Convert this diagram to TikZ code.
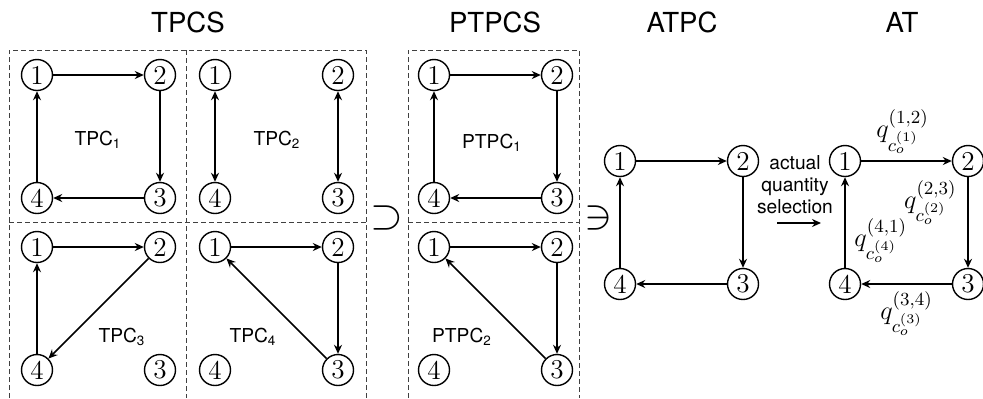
\documentclass[tikz,border=0pt]{standalone}
\usepackage{fix-cm}
\usepackage{fontspec}
\setsansfont{TeX Gyre Heros}
\usetikzlibrary{arrows.meta,positioning}

\begin{document}
\begin{tikzpicture}[x=0.5pt,y=-0.5pt,
  vtx/.style={circle,draw,line width=0.7pt,minimum size=15.5pt,inner sep=0pt,font=\fontsize{13.6}{13.6}\selectfont},
  edge/.style={line width=0.8pt,-{Stealth[length=4.5pt,width=4pt]}},
  twoway/.style={line width=0.8pt,{Stealth[length=4.5pt,width=4pt]}-{Stealth[length=4.5pt,width=4pt]}},
  cellbox/.style={line width=0.5pt,dash pattern=on 2.5pt off 1.5pt,black!75},
  title/.style={font=\sffamily\fontsize{13.8}{16}\selectfont},
  tag/.style={font=\sffamily\fontsize{9.6}{11}\selectfont},
  setsym/.style={scale=1.5,font=\fontsize{14}{14}\selectfont},
  qlab/.style={font=\fontsize{13.2}{15}\selectfont}]
  \useasboundingbox (0,0) rectangle (983,398); % Bildgrenzen

  % gestrichelte Rahmen
  \draw[cellbox] (9,398) |- (366,50) -- (366,398);
  \draw[cellbox] (186,50) -- (186,398);
  \draw[cellbox] (9,222) -- (366,222);
  \draw[cellbox] (408,398) |- (579,50) -- (579,398);
  \draw[cellbox] (408,222) -- (579,222);

  % Ueberschriften
  \node[title] (hTPCS) at (188,22) {TPCS};
  \node[title] (hPTPCS) at (495,22) {PTPCS};
  \node[title] (hATPC) at (682,22) {ATPC};
  \node[title] (hAT) at (902,22) {AT};

  % je vier Knoten pro Feld
  \foreach \g/\x/\y in {tpcA/37/75,tpcB/215/75,tpcC/37/247,tpcD/215/247,
                        ptpcA/434/75,ptpcB/434/247,atpc/620/161,at/845/161} {
    \node[vtx] (\g1) at (\x,\y) {1};
    \node[vtx] (\g2) at (\x+123,\y) {2};
    \node[vtx] (\g3) at (\x+123,\y+123) {3};
    \node[vtx] (\g4) at (\x,\y+123) {4};
  }

  % Kreise 1-2-3-4-1
  \foreach \g in {tpcA,ptpcA,atpc} {
    \draw[edge] (\g1) -- (\g2);
    \draw[edge] (\g2) -- (\g3);
    \draw[edge] (\g3) -- (\g4);
    \draw[edge] (\g4) -- (\g1);
  }
  % TPC2: zwei Hin-und-Rueck-Kanten
  \draw[twoway] (tpcB1) -- (tpcB4);
  \draw[twoway] (tpcB2) -- (tpcB3);
  % TPC3: Dreieck 1-2-4
  \draw[edge] (tpcC1) -- (tpcC2);
  \draw[edge] (tpcC2) -- (tpcC4);
  \draw[edge] (tpcC4) -- (tpcC1);
  % TPC4 und PTPC2: Dreieck 1-2-3
  \foreach \g in {tpcD,ptpcB} {
    \draw[edge] (\g1) -- (\g2);
    \draw[edge] (\g2) -- (\g3);
    \draw[edge] (\g3) -- (\g1);
  }

  % Feldnamen
  \node[tag] (lTPCa) at (98,140) {TPC\textsubscript{1}};
  \node[tag] (lTPCb) at (277,140) {TPC\textsubscript{2}};
  \node[tag] (lTPCc) at (122,337) {TPC\textsubscript{3}};
  \node[tag] (lTPCd) at (253,337) {TPC\textsubscript{4}};
  \node[tag] (lPTPCa) at (492,143) {PTPC\textsubscript{1}};
  \node[tag] (lPTPCb) at (462,337) {PTPC\textsubscript{2}};

  % Mengensymbole
  \node[setsym] (supset) at (387,218) {$\supset$};
  \node[setsym] (ni) at (598,218) {$\ni$};

  % Auswahl der tatsaechlichen Mengen
  \node[tag,align=center] (sel) at (795,185) {actual\\quantity\\selection};
  \coordinate (selL) at (777,223);
  \coordinate (selR) at (821,223);
  \draw[edge] (selL) -- (selR);

  % AT mit Mengenangaben an den Kanten
  \draw[edge] (at1) -- node[qlab,above=0pt,xshift=-2pt] {$q^{(1,2)}_{c_o^{(1)}}$} (at2);
  \draw[edge] (at2) -- node[qlab,pos=0.28,left=2pt] {$q^{(2,3)}_{c_o^{(2)}}$} (at3);
  \draw[edge] (at3) -- node[qlab,below=0pt] {$q^{(3,4)}_{c_o^{(3)}}$} (at4);
  \draw[edge] (at4) -- node[qlab,pos=0.3,right=1pt] {$q^{(4,1)}_{c_o^{(4)}}$} (at1);
\end{tikzpicture}
\end{document}
